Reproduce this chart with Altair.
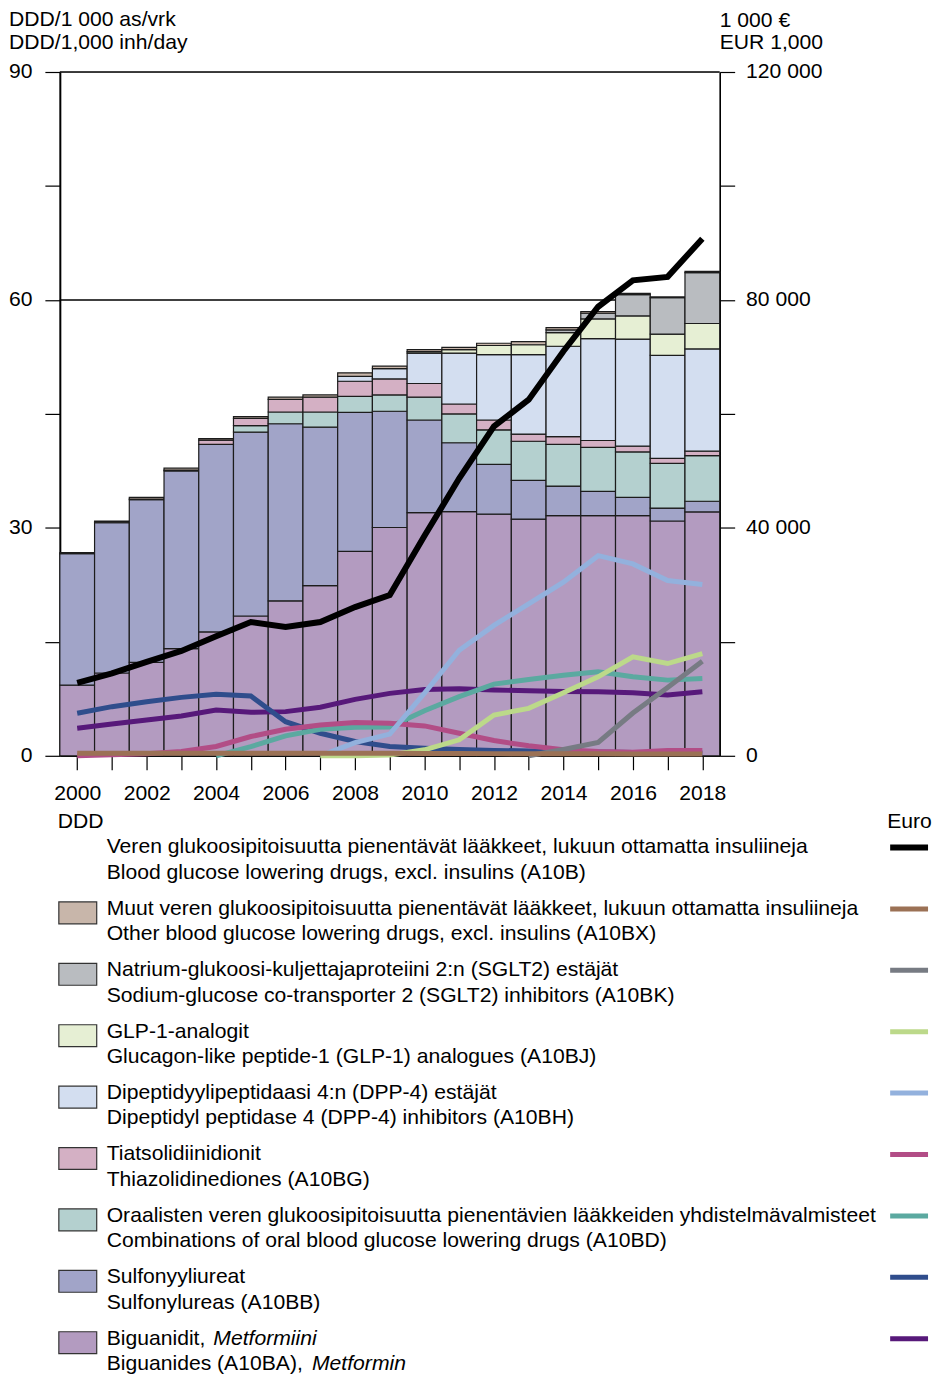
import altair as alt
import pandas as pd

years = [2000, 2001, 2002, 2003, 2004, 2005, 2006, 2007, 2008, 2009,
         2010, 2011, 2012, 2013, 2014, 2015, 2016, 2017, 2018]

# ---- DDD/1000 inh/day, stacked bars (bottom -> top) ----
series_codes = ["A10BA", "A10BB", "A10BD", "A10BG", "A10BH", "A10BJ", "A10BK", "A10BX"]
ddd_A10BA = [9.3, 10.9, 12.3, 14.1, 16.3, 18.4, 20.4, 22.4, 26.9, 30.05, 32.0, 32.15, 31.8, 31.15, 31.6, 31.6, 31.6, 30.9, 32.1]
ddd_A10BB = [17.3, 19.8, 21.4, 23.4, 24.7, 24.2, 23.3, 20.85, 18.3, 15.3, 12.2, 9.05, 6.55, 5.1, 3.9, 3.2, 2.4, 1.7, 1.4]
ddd_A10BD = [0, 0, 0, 0, 0, 0.85, 1.55, 2.0, 2.1, 2.15, 3.0, 3.8, 4.55, 5.15, 5.5, 5.8, 6.0, 5.9, 6.0]
ddd_A10BG = [0, 0.05, 0.1, 0.1, 0.55, 0.95, 1.65, 1.95, 2.0, 2.1, 1.8, 1.3, 1.3, 0.95, 1.0, 0.9, 0.75, 0.65, 0.6]
ddd_A10BH = [0, 0, 0, 0, 0, 0, 0, 0, 0.65, 1.35, 4.0, 6.7, 8.6, 10.45, 11.9, 13.4, 14.1, 13.55, 13.45]
ddd_A10BJ = [0, 0, 0, 0, 0, 0, 0, 0, 0, 0, 0.2, 0.45, 1.2, 1.3, 1.8, 2.6, 3.05, 2.8, 3.35]
ddd_A10BK = [0, 0, 0, 0, 0, 0, 0, 0, 0, 0, 0, 0, 0, 0, 0.35, 0.75, 2.8, 4.8, 6.7]
ddd_A10BX = [0.15, 0.15, 0.2, 0.25, 0.2, 0.25, 0.3, 0.3, 0.45, 0.35, 0.25, 0.3, 0.3, 0.4, 0.3, 0.2, 0.15, 0.1, 0.15]

# ---- Euro (1000 EUR), lines ----
eur_A10B = [12800, 14450, 16480, 18400, 20970, 23470, 22600, 23470, 26100, 28200,
            38600, 48700, 57800, 62500, 71000, 78800, 83450, 84050, 90750]
eur_A10BA = [4840, 5590, 6290, 6990, 8040, 7630, 7750, 8510, 9910, 10950,
             11650, 11770, 11530, 11420, 11300, 11240, 11070, 10660, 11240]
eur_A10BB = [7460, 8620, 9490, 10250, 10780, 10490, 5990, 3960, 2500, 1630,
             1340, 1100, 950, 850, 750, 650, 600, 550, 500]
eur_A10BD = [None, None, None, None, 0, 1600, 3500, 4660, 5010, 5070,
             7920, 10370, 12580, 13400, 14150, 14730, 13860, 13280, 13570]
eur_A10BG = [0, 200, 350, 760, 1630, 3380, 4660, 5420, 5830, 5700,
             5240, 3960, 2680, 1750, 1050, 760, 640, 930, 930]
eur_A10BH = [None, None, None, None, None, None, None, 0, 2300, 3800,
             11000, 18520, 22890, 26680, 30460, 35120, 33670, 30760, 30060]
eur_A10BJ = [None, None, None, None, None, None, None, 0, 0, 150,
             1050, 2800, 7160, 8330, 11070, 13860, 17360, 16190, 17940]
eur_A10BK = [None, None, None, None, None, None, None, None, None, None,
             None, None, None, 0, 1100, 2330, 7500, 12000, 16600]
eur_A10BX = [450, 450, 450, 450, 450, 450, 450, 450, 450, 450,
             420, 400, 380, 360, 350, 340, 330, 330, 330]

fill_colors = ["#b39bc0", "#a1a4c8", "#b4d0cf", "#d4b0c4", "#d3def0", "#e6efd4", "#b9bcc0", "#c8b6aa"]
line_colors = ["#57197a", "#2f4d8c", "#5ba9a0", "#b24d86", "#93b1dd", "#bcd98a", "#777b83", "#9b7155"]

legend_fi = [
    "Veren glukoosipitoisuutta pienentävät lääkkeet, lukuun ottamatta insuliineja",
    "Muut veren glukoosipitoisuutta pienentävät lääkkeet, lukuun ottamatta insuliineja",
    "Natrium-glukoosi-kuljettajaproteiini 2:n (SGLT2) estäjät",
    "GLP-1-analogit",
    "Dipeptidyylipeptidaasi 4:n (DPP-4) estäjät",
    "Tiatsolidiinidionit",
    "Oraalisten veren glukoosipitoisuutta pienentävien lääkkeiden yhdistelmävalmisteet",
    "Sulfonyyliureat",
    "Biguanidit,",
]
legend_en = [
    "Blood glucose lowering drugs, excl. insulins (A10B)",
    "Other blood glucose lowering drugs, excl. insulins (A10BX)",
    "Sodium-glucose co-transporter 2 (SGLT2) inhibitors (A10BK)",
    "Glucagon-like peptide-1 (GLP-1) analogues (A10BJ)",
    "Dipeptidyl peptidase 4 (DPP-4) inhibitors (A10BH)",
    "Thiazolidinediones (A10BG)",
    "Combinations of oral blood glucose lowering drugs (A10BD)",
    "Sulfonylureas (A10BB)",
    "Biguanides (A10BA),",
]
legend_codes = ["A10B", "A10BX", "A10BK", "A10BJ", "A10BH", "A10BG", "A10BD", "A10BB", "A10BA"]

FONT = "Liberation Sans"
FS = 21.2

ddd = {"A10BA": ddd_A10BA, "A10BB": ddd_A10BB, "A10BD": ddd_A10BD, "A10BG": ddd_A10BG,
       "A10BH": ddd_A10BH, "A10BJ": ddd_A10BJ, "A10BK": ddd_A10BK, "A10BX": ddd_A10BX}
eur = {"A10BA": eur_A10BA, "A10BB": eur_A10BB, "A10BD": eur_A10BD, "A10BG": eur_A10BG,
       "A10BH": eur_A10BH, "A10BJ": eur_A10BJ, "A10BK": eur_A10BK, "A10BX": eur_A10BX,
       "A10B": eur_A10B}

# stacked bar table
bar_rows = []
for i, yr in enumerate(years):
    base = 0.0
    for code in series_codes:
        v = ddd[code][i]
        if v > 0:
            bar_rows.append({"year": yr, "x0": yr - 0.5, "x1": yr + 0.5,
                             "y0": base, "y1": base + v, "series": code})
        base += v
bars_df = pd.DataFrame(bar_rows)

fill_scale = alt.Scale(domain=series_codes, range=fill_colors)
line_scale = alt.Scale(domain=series_codes + ["A10B"], range=line_colors + ["#000000"])

x_axis = alt.Axis(values=years, labelExpr="datum.value % 2 == 0 ? format(datum.value, 'd') : ''",
                  tickSize=14, tickColor="black", tickWidth=1.2, domainColor="black",
                  domainWidth=1.6, labelFontSize=FS, labelFont=FONT, labelColor="black",
                  labelPadding=13, grid=False, title=None, labelAngle=0)
x_scale = alt.Scale(domain=[1999.5, 2018.5], nice=False, zero=False)
y_left_scale = alt.Scale(domain=[0, 90], nice=False)

left_axis = alt.Axis(values=[0, 15, 30, 45, 60, 75, 90],
                     labelExpr="datum.value % 30 == 0 ? format(datum.value, 'd') : ''",
                     tickSize=15, tickColor="black", tickWidth=1.2, domainColor="black",
                     domainWidth=2, labelFontSize=FS, labelFont=FONT, labelColor="black",
                     labelPadding=13, grid=False, title=None)
right_axis = alt.Axis(values=[0, 20000, 40000, 60000, 80000, 100000, 120000], orient="right",
                      labelExpr="datum.value == 0 ? '0' : (datum.value % 40000 == 0 ? format(datum.value / 1000, 'd') + ' 000' : '')",
                      tickSize=15, tickColor="black", tickWidth=1.2, domainColor="black",
                      domainWidth=1.6, labelFontSize=FS, labelFont=FONT, labelColor="black",
                      labelPadding=11, grid=False, title=None)

grid_rule = alt.Chart(pd.DataFrame({"g": [60, 90]})).mark_rule(color="black", strokeWidth=1.4).encode(
    y=alt.Y("g:Q", scale=y_left_scale, axis=left_axis)
)

bars = alt.Chart(bars_df).mark_bar(stroke="#1c1c1c", strokeWidth=1.2).encode(
    x=alt.X("x0:Q", scale=x_scale, axis=x_axis),
    x2="x1:Q",
    y=alt.Y("y0:Q", scale=y_left_scale, axis=left_axis),
    y2="y1:Q",
    color=alt.Color("series:N", scale=fill_scale, legend=None),
)

# text decorations (chart coords: plot origin at page (60, 70))
def txt(s, x, y, italic=False, align="left"):
    kw = dict(font=FONT, fontSize=FS, color="black", align=align, baseline="middle")
    if italic:
        kw["fontStyle"] = "italic"
    return alt.Chart(pd.DataFrame({"t": [s]})).mark_text(**kw).encode(
        x=alt.value(x), y=alt.value(y), text="t:N")

texts = [
    txt("DDD/1 000 as/vrk", -51, -52),
    txt("DDD/1,000 inh/day", -51, -29.5),
    txt("1 000 €", 662, -51.5),
    txt("EUR 1,000", 662, -29.5),
    txt("DDD", -2, 752),
    txt("Euro", 830, 752),
]
row0, step, gap = 778, 61.6, 25.4
legend_layers = []
for i, (fi, en, code) in enumerate(zip(legend_fi, legend_en, legend_codes)):
    y1 = row0 + step * i
    texts.append(txt(fi, 47, y1))
    texts.append(txt(en, 47, y1 + gap))
    if code != "A10B":
        fc = fill_colors[series_codes.index(code)]
        legend_layers.append(
            alt.Chart(pd.DataFrame({"c": [code]})).mark_rect(fill=fc, stroke="#333333", strokeWidth=1.2).encode(
                x=alt.value(-1), x2=alt.value(37), y=alt.value(y1 - 7), y2=alt.value(y1 + 15))
        )
        lc = line_colors[series_codes.index(code)]
        sw = 5
    else:
        lc = "#000000"
        sw = 6
    legend_layers.append(
        alt.Chart(pd.DataFrame({"c": [code]})).mark_rule(color=lc, strokeWidth=sw).encode(
            x=alt.value(833), x2=alt.value(871), y=alt.value(y1))
    )
texts.append(txt("Metformiini", 154, row0 + step * 8, italic=True))
texts.append(txt("Metformin", 253, row0 + step * 8 + gap, italic=True))

left = alt.layer(grid_rule, bars, *legend_layers, *texts)

# lines (drawn purple first ... black last)
line_order = ["A10BA", "A10BB", "A10BD", "A10BG", "A10BH", "A10BJ", "A10BK", "A10BX", "A10B"]
line_layers = []
for code in line_order:
    df = pd.DataFrame({"year": years, "eur": eur[code], "series": code}).dropna()
    sw = 6 if code == "A10B" else 5
    line_layers.append(
        alt.Chart(df).mark_line(strokeWidth=sw, strokeJoin="miter").encode(
            x=alt.X("year:Q", scale=x_scale, axis=x_axis),
            y=alt.Y("eur:Q", scale=alt.Scale(domain=[0, 120000], nice=False), axis=right_axis),
            color=alt.Color("series:N", scale=line_scale, legend=None),
        )
    )
right = alt.layer(*line_layers)

chart = alt.layer(left, right).resolve_scale(y="independent", color="independent").properties(
    width=662, height=686,
    autosize=alt.AutoSizeParams(type="none"),
    padding={"left": 52, "top": 62, "right": 220, "bottom": 620},
).configure_view(stroke=None).configure(font=FONT)

chart.save("out.html", embed_options={"renderer": "svg", "actions": False})
